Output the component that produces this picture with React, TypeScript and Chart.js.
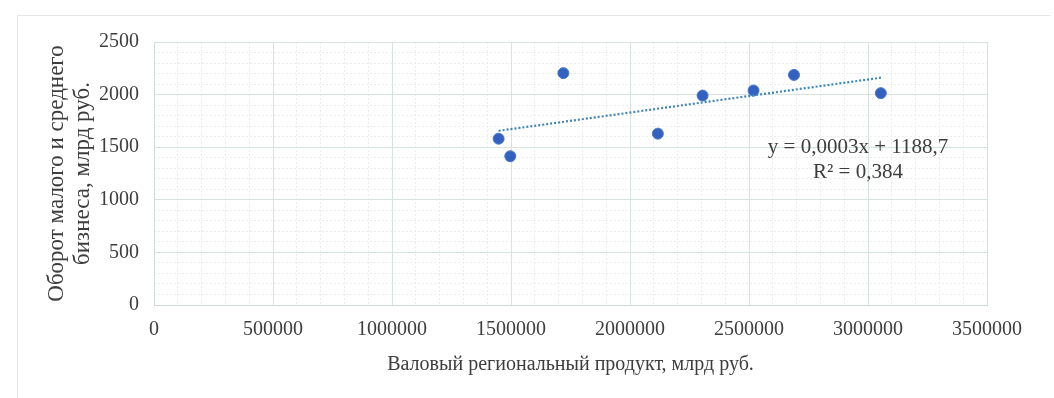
import React, { useEffect, useRef } from "react";
import { Chart, registerables } from "chart.js";

Chart.register(...registerables);

// Валовый региональный продукт (млрд руб.) и оборот МСП (млрд руб.)
const grpValues = [1448000, 1497000, 1720000, 2117000, 2305000, 2519000, 2689000, 3054000];
const turnoverValues = [1581, 1414, 2204, 1629, 1991, 2039, 2187, 2014];

const xTickValues = [0, 500000, 1000000, 1500000, 2000000, 2500000, 3000000, 3500000];
const yTickValues = [0, 500, 1000, 1500, 2000, 2500];

const xAxisTitle = "Валовый региональный продукт, млрд руб.";
const yAxisTitle = ["Оборот малого и среднего", "бизнеса, млрд руб."];
const equationLines = ["y = 0,0003x + 1188,7", "R² = 0,384"];

const FONT = '"Liberation Serif", "Times New Roman", serif';
const TEXT_COLOR = "#3d3d3d";

// Least-squares linear fit over the scatter data
function linearFit(xs: number[], ys: number[]) {
  const n = xs.length;
  const mx = xs.reduce((a, b) => a + b, 0) / n;
  const my = ys.reduce((a, b) => a + b, 0) / n;
  let sxy = 0;
  let sxx = 0;
  for (let i = 0; i < n; i++) {
    sxy += (xs[i] - mx) * (ys[i] - my);
    sxx += (xs[i] - mx) * (xs[i] - mx);
  }
  const slope = sxy / sxx;
  return { slope, intercept: my - slope * mx };
}

const equationPlugin = {
  id: "equationLabel",
  afterDatasetsDraw(chart: any) {
    const { ctx, scales } = chart;
    const cx = scales.x.getPixelForValue(2958000);
    const cy = scales.y.getPixelForValue(1500);
    ctx.save();
    ctx.font = `21px ${FONT}`;
    ctx.fillStyle = TEXT_COLOR;
    ctx.textAlign = "center";
    ctx.textBaseline = "middle";
    equationLines.forEach((line, i) => ctx.fillText(line, cx, cy + i * 25));
    ctx.restore();
  },
};

export default function App() {
  const canvasRef = useRef<HTMLCanvasElement | null>(null);

  useEffect(() => {
    if (!canvasRef.current) return;
    const fit = linearFit(grpValues, turnoverValues);
    const xMin = Math.min(...grpValues);
    const xMax = Math.max(...grpValues);

    const chart = new Chart(canvasRef.current, {
      type: "scatter",
      data: {
        datasets: [
          {
            label: "trend",
            type: "line",
            data: [
              { x: xMin, y: fit.slope * xMin + fit.intercept },
              { x: xMax, y: fit.slope * xMax + fit.intercept },
            ],
            borderColor: "#3f86b5",
            borderWidth: 2.2,
            borderDash: [2, 2],
            pointRadius: 0,
            fill: false,
          },
          {
            label: "data",
            data: grpValues.map((x, i) => ({ x, y: turnoverValues[i] })),
            backgroundColor: "#3461bd",
            borderColor: "#4a78c8",
            borderWidth: 1,
            pointRadius: 5.5,
          },
        ],
      },
      options: {
        animation: false,
        responsive: false,
        devicePixelRatio: 1,
        layout: { padding: { left: 0, top: 42, right: 67, bottom: 0 } },
        plugins: { legend: { display: false }, tooltip: { enabled: false } },
        scales: {
          xMinor: {
            type: "linear",
            position: "bottom",
            min: 0,
            max: 3500000,
            ticks: { display: false, stepSize: 100000 },
            grid: { color: "#e9eeec", lineWidth: 1, drawTicks: false },
            border: { display: false, dash: [2, 2] },
            afterFit: (s: any) => { s.height = 0; },
          },
          yMinor: {
            type: "linear",
            position: "left",
            min: 0,
            max: 2500,
            ticks: { display: false, stepSize: 100 },
            grid: { color: "#e9eeec", lineWidth: 1, drawTicks: false },
            border: { display: false, dash: [2, 2] },
            afterFit: (s: any) => { s.width = 0; },
          },
          x: {
            type: "linear",
            position: "bottom",
            min: 0,
            max: 3500000,
            afterBuildTicks: (s: any) => { s.ticks = xTickValues.map((v) => ({ value: v })); },
            ticks: {
              font: { family: FONT, size: 20 },
              color: TEXT_COLOR,
              padding: 13,
              maxRotation: 0,
              callback: (v: any) => String(v),
            },
            grid: { color: "#d8e3df", lineWidth: 1, drawTicks: false },
            border: { display: true, color: "#cfdad6" },
            title: {
              display: true,
              text: xAxisTitle,
              font: { family: FONT, size: 20 },
              color: TEXT_COLOR,
              padding: { top: 0, bottom: 21 },
            },
            afterFit: (s: any) => { s.height = 93; },
          },
          y: {
            type: "linear",
            position: "left",
            min: 0,
            max: 2500,
            afterBuildTicks: (s: any) => { s.ticks = yTickValues.map((v) => ({ value: v })); },
            ticks: {
              font: { family: FONT, size: 20 },
              color: TEXT_COLOR,
              padding: 15,
              callback: (v: any) => String(v),
            },
            grid: { color: "#d8e3df", lineWidth: 1, drawTicks: false },
            border: { display: true, color: "#cfdad6" },
            title: {
              display: true,
              text: yAxisTitle,
              font: { family: FONT, size: 23, lineHeight: 1.17 },
              color: TEXT_COLOR,
              padding: { top: 43, bottom: 0 },
            },
            afterFit: (s: any) => { s.width = 154; },
          },
        },
      },
      plugins: [equationPlugin],
    });
    return () => chart.destroy();
  }, []);

  return (
    <div style={{ position: "absolute", left: 0, top: 0, width: 1054, height: 398, background: "#fff" }}>
      <div
        style={{
          position: "absolute",
          left: 17,
          top: 15,
          width: 1033,
          height: 383,
          borderTop: "1px solid #e3e6e5",
          borderLeft: "1px solid #e3e6e5",
          boxSizing: "border-box",
        }}
      />
      <canvas ref={canvasRef} width={1054} height={398} style={{ position: "absolute", left: 0, top: 0 }} />
    </div>
  );
}
